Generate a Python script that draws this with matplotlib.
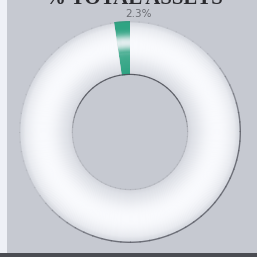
import numpy as np
import matplotlib
matplotlib.use("Agg")
import matplotlib.pyplot as plt
from matplotlib.patches import Wedge, Rectangle

# data
categories = ["Share", "Rest"]
values = [2.3, 97.7]
label_text = "2.3%"
title_text = "% TOTAL ASSETS"

W = 257
fig = plt.figure(figsize=(2.57, 2.57), dpi=100)
fig.patch.set_facecolor("#eef0f6")
ax = fig.add_axes([0, 0, 1, 1])

# gray panel
ax.add_patch(Rectangle((7, 4), W - 7, W - 4, facecolor="#c6c9d1", edgecolor="none", zorder=0))
ax.add_patch(Rectangle((0, 0), W, 4, facecolor="#4a4c52", edgecolor="none", zorder=0))

cx, cy = 130, 125
r_out, r_in = 111, 57
width = r_out - r_in

wedges, _ = ax.pie(values, colors=["#2fa483", "#d5d8df"], startangle=90, counterclock=True,
                   radius=r_out, center=(cx, cy), frame=True,
                   wedgeprops=dict(width=width, edgecolor="none", linewidth=0))
for w in wedges:
    w.set_zorder(1)

th = [(w.theta1, w.theta2) for w in wedges]

# shading glow
N = 54
for i in range(N):
    t0 = i / N
    t1 = (i + 1) / N
    tm = (t0 + t1) / 2
    r1 = r_in + t1 * width
    a_broad = 0.93 * np.exp(-((tm - 0.55) ** 2) / (2 * 0.25 ** 2))
    a_broad *= min(1, tm / 0.1) * min(1, (1 - tm) / 0.12)
    ax.add_patch(Wedge((cx, cy), r1 + 0.3, th[1][0], th[1][1], width=width / N + 0.6,
                       facecolor="#fbfcff", edgecolor="none", alpha=max(a_broad, 0), zorder=2))
    a_n = 0.85 * np.exp(-((tm - 0.6) ** 2) / (2 * 0.09 ** 2)) + 0.2 * (tm < 0.4) * (tm - 0.0)
    ax.add_patch(Wedge((cx, cy), r1 + 0.3, th[0][0], th[0][1], width=width / N + 0.6,
                       facecolor="#f2f4f8", edgecolor="none", alpha=min(a_n, 1), zorder=2))

# outer edge line, darker toward lower right
M = 72
for k in range(M):
    a0 = k * 360 / M
    a1 = a0 + 360 / M + 0.5
    am = np.radians((a0 + a1) / 2)
    al = np.clip(np.cos(am + np.radians(50)) * 1.1 + 0.25, 0.15, 0.9)
    ax.add_patch(Wedge((cx, cy), r_out, a0, a1, width=1.4, facecolor="#62646d",
                       edgecolor="none", alpha=al, zorder=3))
# inner edge line, darker on top
for k in range(M):
    a0 = k * 360 / M
    a1 = a0 + 360 / M + 0.5
    am = np.radians((a0 + a1) / 2)
    al = np.clip(np.sin(am) * 1.2 + 0.2, 0.2, 0.9)
    ax.add_patch(Wedge((cx, cy), r_in + 1.2, a0, a1, width=1.2, facecolor="#4e5058",
                       edgecolor="none", alpha=al, zorder=3))

ax.set_xlim(0, W)
ax.set_ylim(0, W)
ax.set_aspect("auto")
ax.axis("off")

ax.text(139, W - 14, label_text, ha="center", va="center", fontsize=7.5,
        color="#6a6c72", family="DejaVu Sans", zorder=5)
ax.text(134, W - 4, title_text, ha="center", va="baseline", fontsize=15,
        fontweight="bold", color="#2a2a2e", family="Liberation Serif", zorder=5)

fig.savefig("out.png", dpi=100, facecolor=fig.get_facecolor())
